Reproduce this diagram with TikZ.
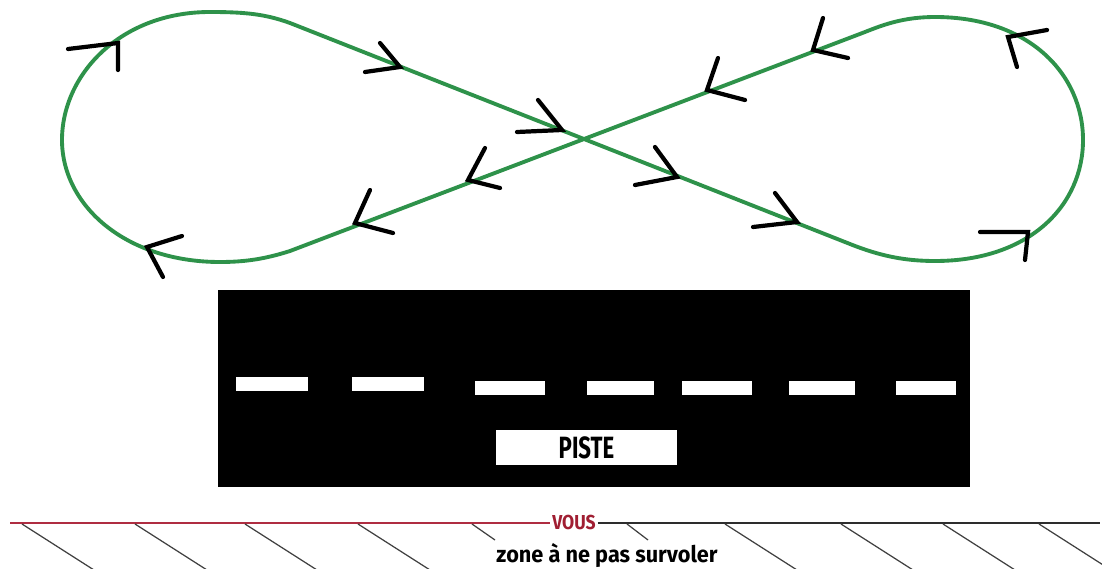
\documentclass[tikz,border=0pt]{standalone}
\usepackage{fontspec}
\newfontfamily\pistefont[FakeStretch=0.72]{Fira Sans}
\newfontfamily\vousfont[FakeStretch=0.87]{Fira Sans}
\newfontfamily\zonefont[FakeStretch=0.95]{Fira Sans}
\definecolor{loopgreen}{RGB}{46,146,74}
\definecolor{vousred}{RGB}{160,30,50}
\definecolor{linered}{RGB}{175,45,65}
\definecolor{linegray}{RGB}{45,45,45}
\begin{document}
\begin{tikzpicture}[x=0.02cm,y=-0.02cm,
  track/.style={draw=loopgreen,line width=2.2pt,line join=round},
  chev/.style={draw=black,line width=2.4pt,line cap=round,line join=miter},
  dashmark/.style={fill=white},
  hatch/.style={draw=black!75,line width=0.7pt},
  redrule/.style={draw=linered,line width=1.2pt},
  grayrule/.style={draw=linegray,line width=0.9pt}]
\useasboundingbox (0,0) rectangle (1102,568);
\fill[white] (0,0) rectangle (1102,568);
% figure eight
\draw[track] (290,23) -- (850,244)
  .. controls (880,256) and (905,261) .. (935,261)
  .. controls (1030,261) and (1083,205) .. (1083,140)
  .. controls (1083,75) and (1030,17) .. (935,17)
  .. controls (905,17) and (885,24) .. (865,32)
  -- (290,251)
  .. controls (265,259) and (245,262) .. (220,262)
  .. controls (125,262) and (62,205) .. (62,140)
  .. controls (62,75) and (120,12) .. (210,12)
  .. controls (245,12) and (265,14) .. cycle;
% direction marks
\draw[chev] (380,43) -- (400,67) -- (365,72);
\draw[chev] (538,100) -- (562,130) -- (517,132);
\draw[chev] (655,147) -- (677,177) -- (635,185);
\draw[chev] (775,193) -- (797,222) -- (753,227);
\draw[chev] (823,18) -- (813,50) -- (848,58);
\draw[chev] (718,58) -- (707,90) -- (745,100);
\draw[chev] (485,148) -- (468,180) -- (500,188);
\draw[chev] (370,190) -- (355,223) -- (393,233);
\draw[chev] (68,49) -- (118,43) -- (118,70);
\draw[chev] (182,236) -- (147,247) -- (163,277);
\draw[chev] (1047,30) -- (1008,37) -- (1017,67);
\draw[chev] (980,232) -- (1028,232) -- (1025,260);
% runway
\fill[black] (218,290) rectangle (970,487);
\fill[dashmark] (236,377) rectangle (308,391);
\fill[dashmark] (352,377) rectangle (424,391);
\fill[dashmark] (475,381) rectangle (545,395);
\fill[dashmark] (587,381) rectangle (654,395);
\fill[dashmark] (682,381) rectangle (752,395);
\fill[dashmark] (789,381) rectangle (855,395);
\fill[dashmark] (896,381) rectangle (956,395);
\node (piste) [fill=white,minimum width=3.62cm,minimum height=0.7cm,inner sep=0pt,
  font=\pistefont\bfseries\fontsize{17.5}{17.5}\selectfont] at (586.5,447.5) {PISTE};
% boundary line
\node (vous) [inner sep=1pt,text=vousred,font=\vousfont\bfseries\fontsize{11.5}{11.5}\selectfont] at (574,522) {VOUS};
\coordinate (lineL) at (10,523);
\coordinate (lineR) at (1100,523);
\draw[redrule] (lineL) -- (vous.west |- lineL);
\draw[grayrule] (vous.east |- lineR) -- (lineR);
\node (zone) [inner sep=0pt,font=\zonefont\bfseries\fontsize{13}{13}\selectfont] at (607,555) {zone à ne pas survoler};
% hatching
\foreach \x in {22,135,245,358,725,841,943,1039} {
  \draw[hatch] (\x,524) -- ++(72,46);
}
\draw[hatch] (472,524) -- (495,540);
\draw[hatch] (627,524) -- (648,540);
\end{tikzpicture}
\end{document}
